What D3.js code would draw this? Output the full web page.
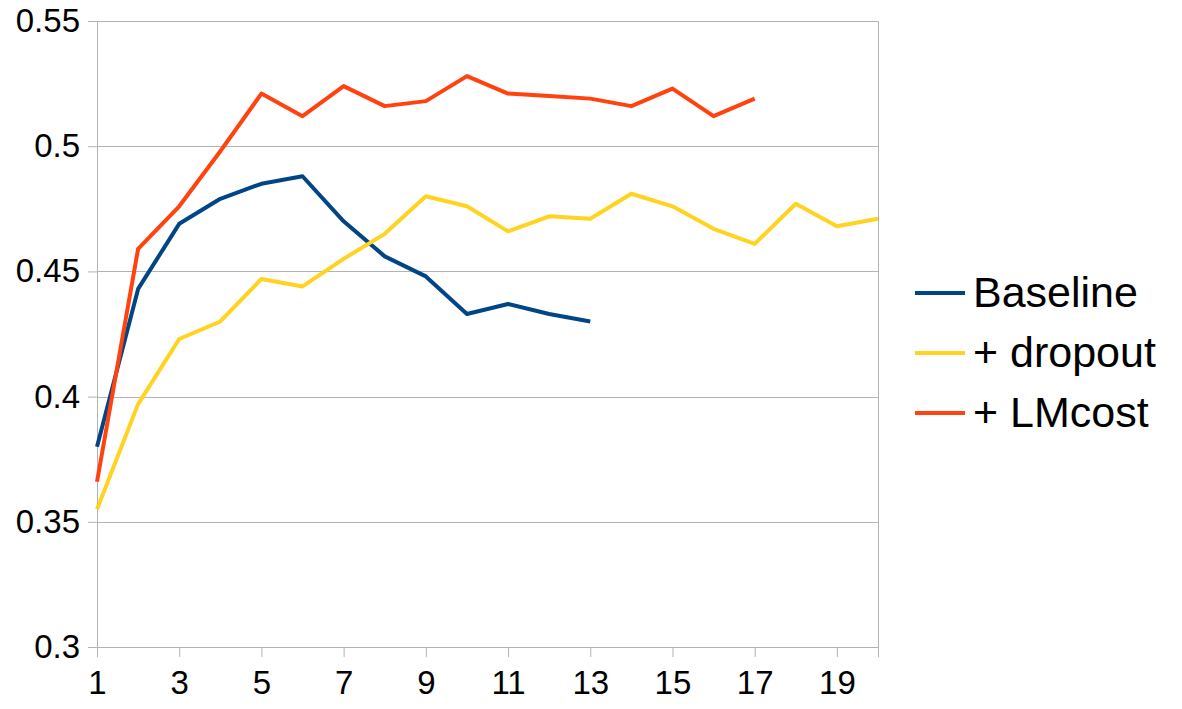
<!DOCTYPE html>
<html>
<head>
<meta charset="utf-8">
<script src="https://cdn.jsdelivr.net/npm/d3@7"></script>
<style>
  body { margin: 0; background: #fff; }
  text { font-family: "Liberation Sans", Arial, sans-serif; fill: #000; }
</style>
</head>
<body>
<div id="chart"></div>
<script>
// Epochs on the x axis
const epochs = d3.range(1, 21);

// Series values
const baseline = [0.380, 0.443, 0.469, 0.479, 0.485, 0.488, 0.470, 0.456, 0.448, 0.433, 0.437, 0.433, 0.430];
const dropout = [0.355, 0.397, 0.423, 0.430, 0.447, 0.444, 0.455, 0.465, 0.480, 0.476, 0.466, 0.472, 0.471, 0.481, 0.476, 0.467, 0.461, 0.477, 0.468, 0.471];
const lmcost = [0.366, 0.459, 0.476, 0.498, 0.521, 0.512, 0.524, 0.516, 0.518, 0.528, 0.521, 0.520, 0.519, 0.516, 0.523, 0.512, 0.519];

const seriesNames = ["Baseline", "+ dropout", "+ LMcost"];
const seriesColors = ["#004586", "#ffd320", "#ff420e"];
const yTicks = [0.3, 0.35, 0.4, 0.45, 0.5, 0.55];
const xTicks = [1, 3, 5, 7, 9, 11, 13, 15, 17, 19];

const W = 1182, H = 709;
const margin = { top: 21, right: 304, bottom: 62, left: 97 };
const width = W - margin.left - margin.right;
const height = H - margin.top - margin.bottom;

const svg = d3.select("#chart").append("svg")
    .attr("width", W).attr("height", H);
const g = svg.append("g")
    .attr("transform", `translate(${margin.left},${margin.top})`);

const x = d3.scaleLinear().domain([1, 20]).range([0, width]);
const y = d3.scaleLinear().domain([0.3, 0.55]).range([height, 0]);

// Grid lines
g.append("g")
    .selectAll("line")
    .data(yTicks)
    .join("line")
    .attr("x1", 0).attr("x2", width)
    .attr("y1", d => Math.round(y(d)) + 0.5).attr("y2", d => Math.round(y(d)) + 0.5)
    .attr("stroke", "#b3b3b3").attr("stroke-width", 1);

// Right border
g.append("line")
    .attr("x1", width + 0.5).attr("x2", width + 0.5)
    .attr("y1", 0).attr("y2", height)
    .attr("stroke", "#b3b3b3");

// Axes
const yAxis = g.append("g")
    .call(d3.axisLeft(y).tickValues(yTicks).tickFormat(d => String(+d.toFixed(2))).tickSize(9).tickPadding(8));
const xAxis = g.append("g")
    .attr("transform", `translate(0,${height})`)
    .call(d3.axisBottom(x).tickValues(xTicks).tickFormat(d3.format("d")).tickSize(10).tickPadding(14));

[yAxis, xAxis].forEach(a => {
    a.select(".domain").attr("stroke", "#b3b3b3");
    a.selectAll(".tick line").attr("stroke", "#b3b3b3");
    a.selectAll("text").attr("font-size", "33px").attr("font-family", "Liberation Sans, Arial, sans-serif").attr("fill", "#000");
});

// Lines
const line = d3.line()
    .x((d, i) => x(epochs[i]))
    .y(d => y(d));

[baseline, dropout, lmcost].forEach((vals, k) => {
    g.append("path")
        .datum(vals)
        .attr("fill", "none")
        .attr("stroke", seriesColors[k])
        .attr("stroke-width", 4)
        .attr("stroke-linejoin", "round")
        .attr("d", line);
});

// Legend
const legend = svg.append("g").attr("transform", "translate(915,293)");
seriesNames.forEach((name, k) => {
    const row = legend.append("g").attr("transform", `translate(0,${k * 60})`);
    row.append("line")
        .attr("x1", 0).attr("x2", 50)
        .attr("y1", 0).attr("y2", 0)
        .attr("stroke", seriesColors[k]).attr("stroke-width", 4);
    row.append("text")
        .attr("x", 58).attr("y", 14)
        .attr("font-size", "43px")
        .text(name);
});
</script>
</body>
</html>
